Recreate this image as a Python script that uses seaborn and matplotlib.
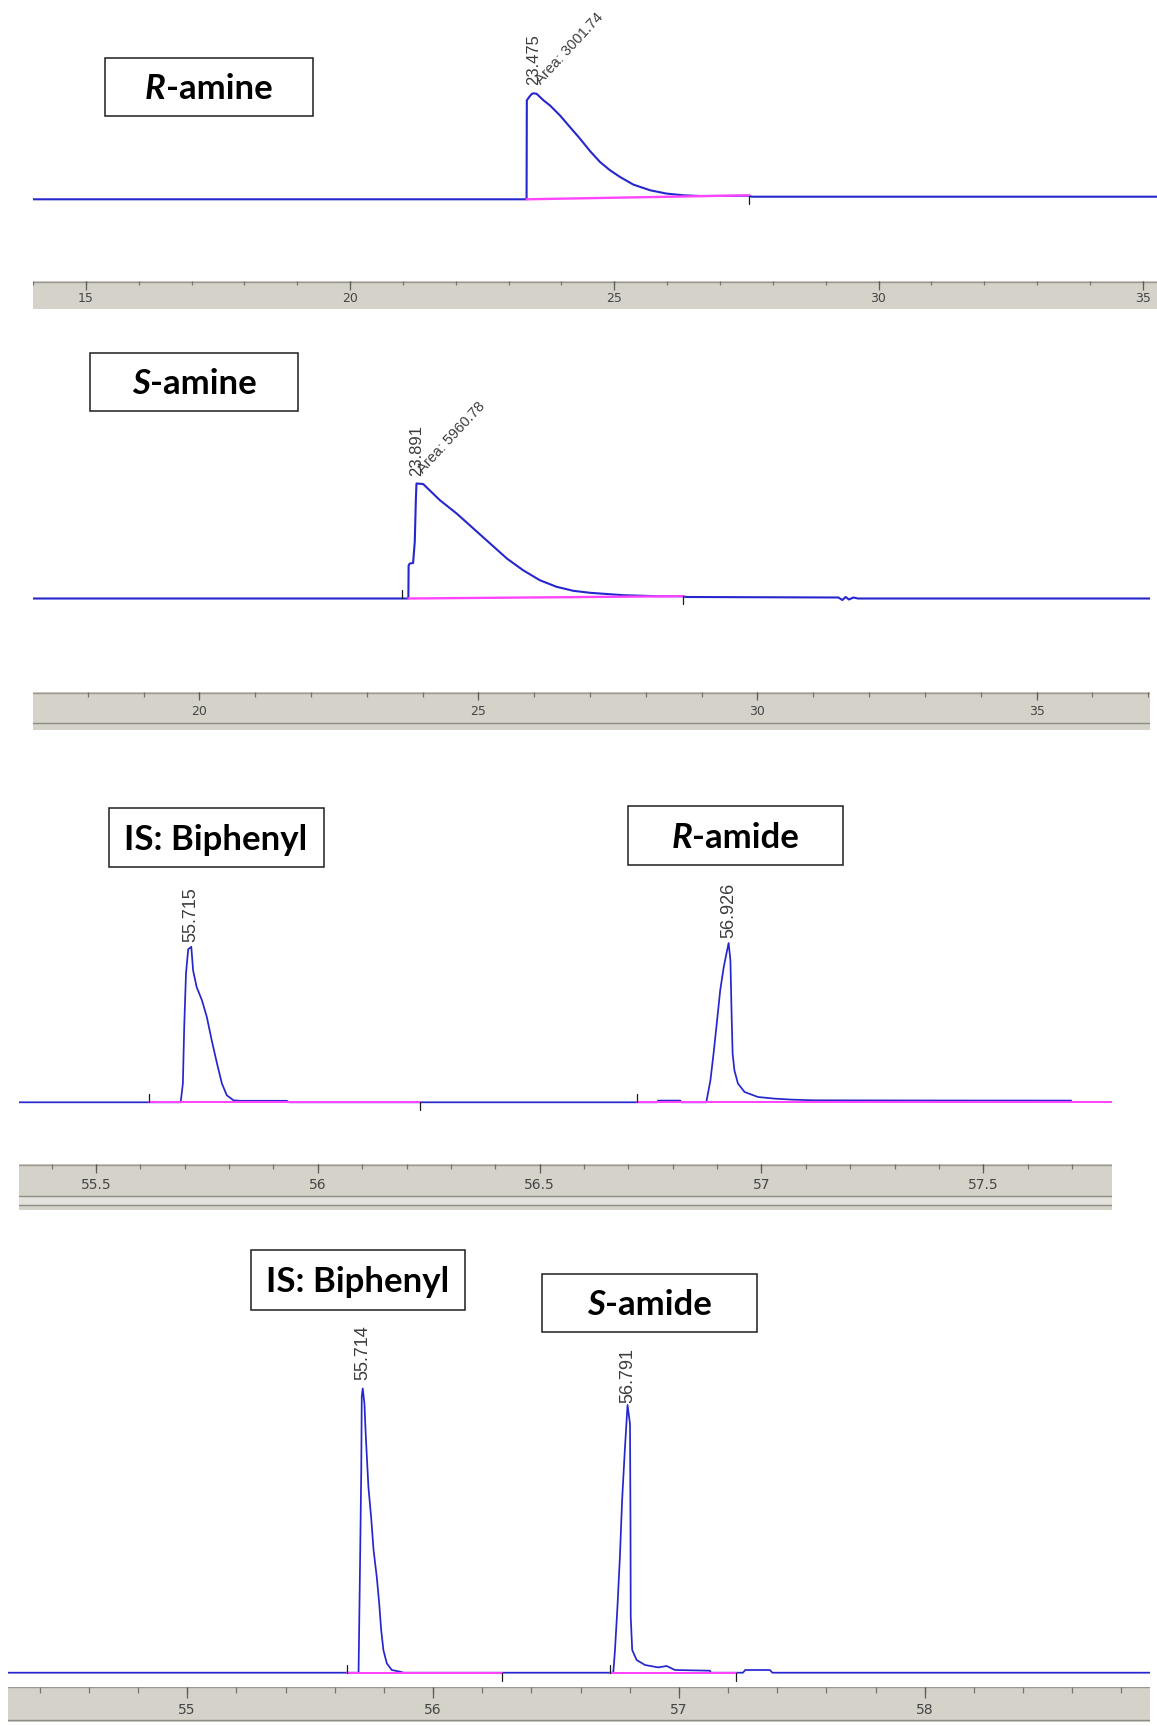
import numpy as np
import pandas as pd
import matplotlib
matplotlib.use("Agg")
import matplotlib.pyplot as plt
import matplotlib.transforms as mtransforms
import seaborn as sns
from matplotlib.patches import Rectangle
from matplotlib.offsetbox import TextArea, HPacker, AnnotationBbox

# ---------------- chromatogram data: retention time (min) vs response ----------------
# Run 1: R-amine
r_amine_time = [14.0, 23.34, 23.345, 23.40, 23.44, 23.475, 23.53, 23.66, 23.78, 23.97,
                24.16, 24.35, 24.54, 24.73, 24.92, 25.11, 25.36, 25.68, 25.99, 26.31,
                26.62, 27.10, 27.55, 27.60, 35.27]
r_amine_signal = [0, 0, 99, 103, 105.5, 106, 105.5, 99, 94, 84,
                  72.3, 60.7, 48.3, 37.3, 29, 22.3, 14.7, 9, 5.7, 4,
                  3.3, 3.4, 3.6, 2.6, 2.6]
r_amine_base_time = [[23.34, 27.55]]
r_amine_base_signal = [[0, 4.0]]
r_amine_events = [27.55]
r_amine_event_dirs = [-1]
r_amine_rt = [23.475]
r_amine_area = [3001.74]

# Run 2: S-amine
s_amine_time = [17.02, 23.745, 23.75, 23.77, 23.83, 23.86, 23.88, 23.891, 24.01, 24.31,
                24.61, 24.91, 25.21, 25.51, 25.80, 26.10, 26.40, 26.70, 27.00, 27.60,
                28.19, 28.67, 28.72, 31.45, 31.52, 31.58, 31.64, 31.72, 31.80, 37.04]
s_amine_signal = [0, 0, 33, 35, 35.5, 56.7, 100, 115, 114.5, 98.3,
                  85, 70, 55, 40, 28.3, 18.3, 11.7, 7.7, 5.7, 3.3,
                  2.3, 2.3, 1.5, 1.0, -1.5, 1.5, -1.0, 1.0, 0, 0]
s_amine_base_time = [[23.745, 28.67]]
s_amine_base_signal = [[0, 2.3]]
s_amine_events = [23.626, 28.67]
s_amine_event_dirs = [1, -1]
s_amine_rt = [23.891]
s_amine_area = [5960.78]

# Run 3: internal standard + R-amide
r_amide_time = [55.326, 55.691, 55.696, 55.699, 55.703, 55.708, 55.715, 55.719, 55.727, 55.739,
                55.750, 55.761, 55.773, 55.784, 55.795, 55.810, 55.825, 55.93, 55.935, 56.765,
                56.767, 56.817, 56.82, 56.8756, 56.885, 56.892, 56.900, 56.907, 56.915, 56.921,
                56.926, 56.930, 56.933, 56.935, 56.939, 56.947, 56.962, 56.992, 57.029, 57.067,
                57.119, 57.40, 57.698]
r_amide_signal = [0, 0, 18.7, 75, 128.7, 153, 155.5, 132, 115.3, 102,
                  85.3, 62, 38.7, 18.7, 7, 2, 1.5, 1.5, 0, 0,
                  1.7, 1.7, 0, 0, 22, 48.7, 82, 112, 135.3, 148.7,
                  159.3, 142, 82, 48.7, 32, 18.7, 10.3, 5.3, 3.7, 2.7,
                  2, 1.8, 1.7]
r_amide_base_time = [[55.62, 56.23], [56.72, 57.79]]
r_amide_base_signal = [[0, 0], [0, 0]]
r_amide_events = [55.62, 56.23, 56.72]
r_amide_event_dirs = [1, -1, 1]
r_amide_rt = [55.715, 56.926]

# Run 4: internal standard + S-amide
s_amide_time = [54.27, 55.697, 55.704, 55.708, 55.710, 55.714, 55.721, 55.726, 55.737, 55.748,
                55.758, 55.771, 55.781, 55.789, 55.798, 55.812, 55.832, 55.866, 55.88, 56.733,
                56.740, 56.750, 56.760, 56.769, 56.780, 56.791, 56.801, 56.803, 56.804, 56.810,
                56.828, 56.862, 56.916, 56.950, 56.984, 57.126, 57.13, 57.26, 57.27, 57.37,
                57.38, 58.916]
s_amide_signal = [0, 0, 126, 203, 276, 284.3, 269, 239, 186, 156,
                  122.7, 96, 69.3, 42.7, 22.7, 9.3, 2.7, 1, 0, 0,
                  22.7, 66, 116, 172.7, 222.7, 267.7, 249, 149, 56, 22.7,
                  12.7, 7.7, 5.3, 6.7, 2.7, 2, 0, 0, 2.7, 2.7,
                  0, 0]
s_amide_base_time = [[55.65, 56.28], [56.72, 57.232]]
s_amide_base_signal = [[0, 0], [0, 0]]
s_amide_events = [55.65, 56.28, 56.72, 57.232]
s_amide_event_dirs = [1, -1, 1, -1]
s_amide_rt = [55.714, 56.791]

# time-axis ticks
r_amine_ticks = [15, 20, 25, 30, 35]
s_amine_ticks = [20, 25, 30, 35]
r_amide_ticks = [55.5, 56, 56.5, 57, 57.5]
s_amide_ticks = [55, 56, 57, 58]

# compound labels: (text piece, italic?)
r_amine_labels = [[("R", True), ("-amine", False)]]
s_amine_labels = [[("S", True), ("-amine", False)]]
r_amide_labels = [[("IS: Biphenyl", False)], [("R", True), ("-amide", False)]]
s_amide_labels = [[("IS: Biphenyl", False)], [("S", True), ("-amide", False)]]

# ---------------- styling ----------------
sns.set_theme(style="white")
plt.rcParams["font.family"] = ["Liberation Sans", "DejaVu Sans"]

W, H = 1157, 1726
BLUE = "#2626cf"
MAGENTA = "#ff45ff"
BAR_FACE = "#d5d2ca"
TEXT_GREY = "#3c3c3c"

fig = plt.figure(figsize=(W / 100, H / 100), dpi=100)


def px_axes(x0, y0, x1, y1):
    return fig.add_axes([x0 / W, 1 - y1 / H, (x1 - x0) / W, (y1 - y0) / H])


runs = [
    dict(time=r_amine_time, signal=r_amine_signal, base_t=r_amine_base_time,
         base_s=r_amine_base_signal, events=r_amine_events, dirs=r_amine_event_dirs,
         rts=r_amine_rt, areas=r_amine_area, ticks=r_amine_ticks, minor=1.0,
         labels=r_amine_labels,
         x0=33, x1=1157, top=0, base=199.3, bar_top=281, bar_bot=309,
         xlim=(14.0, 35.27), lw=1.5, rt_size=12, rt_gaps=[8], area_dx=9, area_dy=6,
         tick_size=9, maj_len=9, min_len=4, lab_y=17.5, bar_lines=[],
         boxes=[(104.6, 57.8, 312.5, 116)]),
    dict(time=s_amine_time, signal=s_amine_signal, base_t=s_amine_base_time,
         base_s=s_amine_base_signal, events=s_amine_events, dirs=s_amine_event_dirs,
         rts=s_amine_rt, areas=s_amine_area, ticks=s_amine_ticks, minor=1.0,
         labels=s_amine_labels,
         x0=33, x1=1150.4, top=315, base=598.5, bar_top=692, bar_bot=730,
         xlim=(17.02, 37.04), lw=1.5, rt_size=12, rt_gaps=[8], area_dx=8.5, area_dy=7,
         tick_size=9, maj_len=8, min_len=5, lab_y=19, bar_lines=[31],
         boxes=[(90, 353, 298, 410.7)]),
    dict(time=r_amide_time, signal=r_amide_signal, base_t=r_amide_base_time,
         base_s=r_amide_base_signal, events=r_amide_events, dirs=r_amide_event_dirs,
         rts=r_amide_rt, areas=None, ticks=r_amide_ticks, minor=0.1,
         labels=r_amide_labels,
         x0=18.7, x1=1112, top=740, base=1102.3, bar_top=1164, bar_bot=1210,
         xlim=(55.326, 57.79), lw=1.25, rt_size=13, rt_gaps=[5, 5], area_dx=0, area_dy=0,
         tick_size=10, maj_len=9, min_len=5, lab_y=20.6, bar_lines=[32, 41],
         boxes=[(108.5, 808.5, 323.5, 867.5), (628, 806, 842.5, 865.5)]),
    dict(time=s_amide_time, signal=s_amide_signal, base_t=s_amide_base_time,
         base_s=s_amide_base_signal, events=s_amide_events, dirs=s_amide_event_dirs,
         rts=s_amide_rt, areas=None, ticks=s_amide_ticks, minor=0.2,
         labels=s_amide_labels,
         x0=7.7, x1=1150, top=1220, base=1672.7, bar_top=1686.7, bar_bot=1722,
         xlim=(54.27, 58.916), lw=1.25, rt_size=13, rt_gaps=[8, 2], area_dx=0, area_dy=0,
         tick_size=10, maj_len=11, min_len=6, lab_y=23, bar_lines=[33.3],
         boxes=[(251, 1249.5, 465, 1309.5), (542, 1273.5, 756.5, 1332)]),
]

for run in runs:
    # ----- trace -----
    ax = px_axes(run["x0"], run["top"], run["x1"], run["bar_top"])
    ax.set_xlim(*run["xlim"])
    ax.set_ylim(-(run["bar_top"] - run["base"]), run["base"] - run["top"])
    ax.axis("off")
    ax.patch.set_alpha(0)

    df = pd.DataFrame({"time": run["time"], "signal": run["signal"]})
    sns.lineplot(data=df, x="time", y="signal", ax=ax, color=BLUE, lw=run["lw"],
                 sort=False, estimator=None, legend=False)

    for bt, bs in zip(run["base_t"], run["base_s"]):
        seg = pd.DataFrame({"time": bt, "signal": bs})
        sns.lineplot(data=seg, x="time", y="signal", ax=ax, color=MAGENTA,
                     lw=run["lw"] + 0.2, sort=False, estimator=None, legend=False)

    for t, d in zip(run["events"], run["dirs"]):
        y = np.interp(t, run["time"], run["signal"])
        ax.plot([t, t], [y, y + 8 * d], color="#1a1a1a", lw=0.9)

    for i, rt in enumerate(run["rts"]):
        apex = np.interp(rt, run["time"], run["signal"])
        tr = mtransforms.offset_copy(ax.transData, fig=fig, x=0, y=run["rt_gaps"][i],
                                     units="dots")
        ax.text(rt, apex, f"{rt:.3f}", transform=tr, rotation=90, ha="center",
                va="bottom", fontsize=run["rt_size"], color=TEXT_GREY)
        if run["areas"]:
            tr2 = mtransforms.offset_copy(ax.transData, fig=fig, x=run["area_dx"],
                                          y=run["area_dy"], units="dots")
            ax.text(rt, apex, f"Area: {run['areas'][i]:.2f}", transform=tr2,
                    rotation=47, rotation_mode="anchor", ha="left", va="bottom",
                    fontsize=10.5, color=TEXT_GREY)

    # ----- time bar -----
    bh = run["bar_bot"] - run["bar_top"]
    bx = px_axes(run["x0"], run["bar_top"], run["x1"], run["bar_bot"])
    bx.set_xlim(*run["xlim"])
    bx.set_ylim(bh, 0)
    bx.set_facecolor(BAR_FACE)
    for s in bx.spines.values():
        s.set_visible(False)
    bx.set_xticks([])
    bx.set_yticks([])
    bx.axhline(0.6, color="#9a9890", lw=1.0)
    for yl in run["bar_lines"]:
        bx.axhline(yl, color="#8e8c86", lw=1.0)
    if len(run["bar_lines"]) == 2:
        bx.axhspan(run["bar_lines"][0], run["bar_lines"][1], color="#e4e2dc", lw=0)
    step = run["minor"]
    minors = np.arange(np.ceil(run["xlim"][0] / step) * step, run["xlim"][1], step)
    bx.vlines(minors, 0, run["min_len"], color="#76746e", lw=0.9)
    bx.vlines(run["ticks"], 0, run["maj_len"], color="#5e5c58", lw=0.9)
    for t in run["ticks"]:
        bx.text(t, run["lab_y"], f"{t:g}", ha="center", va="center",
                fontsize=run["tick_size"], family=["DejaVu Sans"], color="#454545")

    # ----- compound label boxes -----
    for (bx0, by0, bx1, by1), pieces in zip(run["boxes"], run["labels"]):
        fig.add_artist(Rectangle((bx0 / W, 1 - by1 / H), (bx1 - bx0) / W, (by1 - by0) / H,
                                 transform=fig.transFigure, facecolor="white",
                                 edgecolor="#1e1e1e", lw=1.1, zorder=5))
        areas = [TextArea(txt, textprops=dict(fontsize=25, fontweight="bold",
                                              fontstyle="italic" if it else "normal",
                                              family=["Lato", "DejaVu Sans"], color="black"))
                 for txt, it in pieces]
        pack = HPacker(children=areas, pad=0, sep=0, align="baseline")
        ab = AnnotationBbox(pack, ((bx0 + bx1) / 2, H - (by0 + by1) / 2 - 2),
                            xycoords="figure pixels", frameon=False,
                            box_alignment=(0.5, 0.5), zorder=6)
        fig.add_artist(ab)

fig.savefig("out.png", dpi=100, facecolor="white")
